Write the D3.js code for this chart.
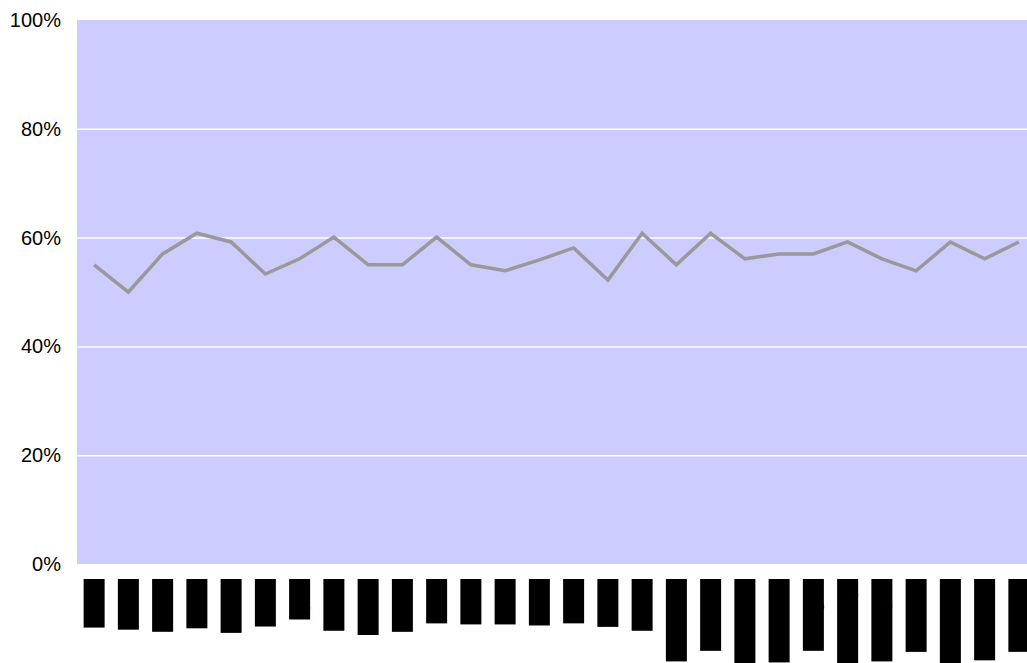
<!DOCTYPE html>
<html>
<head>
<meta charset="utf-8">
<script src="https://cdn.jsdelivr.net/npm/d3@7"></script>
<style>
  html, body { margin: 0; padding: 0; background: #fff; overflow: hidden; }
  svg { display: block; }
</style>
</head>
<body>
<svg id="chart" width="1027" height="663"></svg>
<script>
// Categories along the x axis
const categories = [
  "Berlin", "Rome", "Zurich", "Varna", "Dublin", "Basel", "Lyon", "Ghent",
  "Lisbon", "Bilbao", "Bonn", "Milan", "Porto", "Tours", "Brest", "Turku",
  "Leeds", "Hannover", "Dresden", "Barcelona", "Dortmund", "Stuttgart",
  "Edinburgh", "Göttingen", "Bielefeld", "Bucharest", "Karlsruhe", "Brussels"
];

// Share per category (fraction of 1)
const shares = [
  0.550, 0.500, 0.570, 0.608, 0.592, 0.533, 0.561, 0.601,
  0.550, 0.550, 0.601, 0.550, 0.539, 0.559, 0.581, 0.522,
  0.608, 0.550, 0.608, 0.561, 0.570, 0.570, 0.592, 0.561,
  0.539, 0.592, 0.561, 0.592
];

// Y axis tick values
const yTicks = [0, 0.2, 0.4, 0.6, 0.8, 1.0];

const svg = d3.select("#chart");
const plot = { left: 77, top: 20, bottom: 564, step: 34.25 };
plot.right = plot.left + plot.step * categories.length;

const x = d3.scaleBand()
  .domain(d3.range(categories.length))
  .range([plot.left, plot.right])
  .padding(0);

const y = d3.scaleLinear()
  .domain([0, 1])
  .range([plot.bottom, plot.top]);

// Plot background
svg.append("rect")
  .attr("x", plot.left)
  .attr("y", plot.top)
  .attr("width", plot.right - plot.left)
  .attr("height", plot.bottom - plot.top)
  .attr("fill", "#ccccff");

// Horizontal gridlines
const grid = svg.append("g")
  .attr("transform", `translate(${plot.left},0)`)
  .call(d3.axisLeft(y)
    .tickValues(yTicks.filter(v => v > 0 && v < 1))
    .tickSize(-(plot.right - plot.left))
    .tickFormat(""));
grid.select(".domain").remove();
grid.selectAll("line").attr("stroke", "#ffffff").attr("stroke-width", 1.5);

// Y axis labels
const yAxis = svg.append("g")
  .attr("transform", `translate(${plot.left - 16},0)`)
  .call(d3.axisLeft(y)
    .tickValues(yTicks)
    .tickSize(0)
    .tickPadding(0)
    .tickFormat(d3.format(".0%")));
yAxis.select(".domain").remove();
yAxis.selectAll("text")
  .attr("font-family", "'Liberation Sans', Arial, sans-serif")
  .attr("font-size", 20)
  .attr("fill", "#000");

// Line series
const line = d3.line()
  .x((d, i) => x(i) + x.bandwidth() / 2)
  .y(d => y(d));

svg.append("path")
  .datum(shares)
  .attr("d", line)
  .attr("fill", "none")
  .attr("stroke", "#999999")
  .attr("stroke-width", 3.5)
  .attr("stroke-linejoin", "miter");

// X category labels: rotated, set on solid black blocks
const labelTop = plot.bottom + 15;
const blockWidth = 21;
const xLabels = svg.append("g");
const lab = xLabels.selectAll("g")
  .data(categories)
  .join("g")
  .attr("transform", (d, i) => `translate(${x(i) + x.bandwidth() / 2},${labelTop})`);

lab.append("rect").attr("class", "block");
lab.append("text")
  .attr("transform", "rotate(-90)")
  .attr("text-anchor", "end")
  .attr("x", 0)
  .attr("y", 6.5)
  .attr("font-family", "'Liberation Sans', Arial, sans-serif")
  .attr("font-size", 19)
  .attr("fill", "#000")
  .text(d => d);

lab.each(function () {
  const g = d3.select(this);
  const len = g.select("text").node().getComputedTextLength();
  g.select("rect.block")
    .attr("x", -blockWidth / 2)
    .attr("y", 0)
    .attr("width", blockWidth)
    .attr("height", len)
    .attr("fill", "#000");
});
</script>
</body>
</html>
